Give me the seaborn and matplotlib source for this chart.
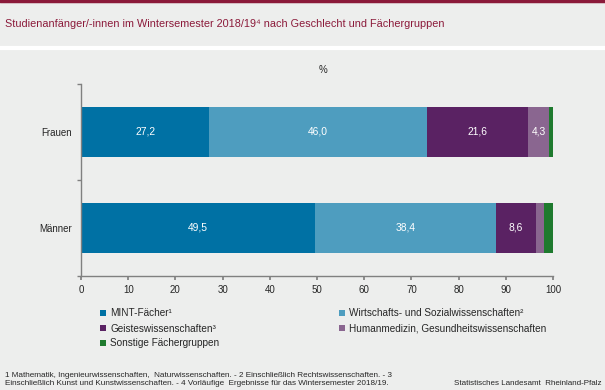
import numpy as np
import pandas as pd
import matplotlib
matplotlib.use("Agg")
import matplotlib.pyplot as plt
from matplotlib.patches import Patch
from matplotlib.lines import Line2D
import seaborn as sns

# data
groups = ["Frauen", "Männer"]
subjects = ["MINT-Fächer¹", "Wirtschafts- und Sozialwissenschaften²", "Geisteswissenschaften³",
            "Humanmedizin, Gesundheitswissenschaften", "Sonstige Fächergruppen"]
frauen = [27.2, 46.0, 21.6, 4.3, 0.9]
maenner = [49.5, 38.4, 8.6, 1.6, 1.9]
show_label = [[True, True, True, True, False], [True, True, True, False, False]]
colors = ["#0071A4", "#4E9DBF", "#5A2263", "#8A6690", "#1E7A2E"]
ticks = list(range(0, 101, 10))

bg = "#EDEEED"
title_col = "#8B1A3A"
grey = "#808080"

sns.set_theme(style="white")
plt.rcParams["font.family"] = ["Liberation Sans", "DejaVu Sans"]

df = pd.DataFrame({"Gruppe": np.repeat(groups, len(subjects)),
                   "Fach": subjects * len(groups),
                   "Anteil": frauen + maenner})
df["Kumuliert"] = df.groupby("Gruppe")["Anteil"].cumsum()

fig = plt.figure(figsize=(6.05, 3.9), dpi=100, facecolor=bg)
ax = fig.add_axes([81 / 605, 1 - 276 / 390, (553 - 81) / 605, (276 - 84) / 390])
ax.set_facecolor(bg)

# stacked bars: draw cumulative totals from the back to the front
for fach, col in reversed(list(zip(subjects, colors))):
    sub = df[df["Fach"] == fach]
    sns.barplot(data=sub, x="Kumuliert", y="Gruppe", order=groups, color=col,
                width=0.52, saturation=1, edgecolor="none", linewidth=0, ax=ax)

for gi, g in enumerate(groups):
    sub = df[df["Gruppe"] == g].reset_index(drop=True)
    for si, row in sub.iterrows():
        if show_label[gi][si]:
            ax.text(row["Kumuliert"] - row["Anteil"] / 2, gi, f"{row['Anteil']:.1f}".replace(".", ","),
                    ha="center", va="center", color="white", fontsize=7.4)

ax.set_xlim(0, 100)
ax.set_ylim(1.5, -0.5)
ax.set_xticks(ticks)
ax.set_xlabel("")
ax.set_ylabel("")
ax.set_yticks([0, 1])
ax.set_yticklabels(groups)
ax.set_yticks([-0.5, 0.5, 1.5], minor=True)
ax.tick_params(axis="x", length=3, color=grey, labelsize=7, pad=3.5, bottom=True)
ax.tick_params(axis="y", which="major", length=0, labelsize=7, pad=6.5)
ax.tick_params(axis="y", which="minor", length=3, color=grey, left=True)
for s in ["top", "right"]:
    ax.spines[s].set_visible(False)
for s in ["left", "bottom"]:
    ax.spines[s].set_color(grey)
    ax.spines[s].set_linewidth(1)

# header decorations
fig.add_artist(Line2D([0, 1], [1 - 1.2 / 390, 1 - 1.2 / 390], color=title_col, lw=2.5, transform=fig.transFigure))
fig.add_artist(Line2D([0, 1], [1 - 48 / 390, 1 - 48 / 390], color="white", lw=3, transform=fig.transFigure))
fig.text(5 / 605, 1 - 27 / 390, "Studienanfänger/-innen im Wintersemester 2018/19⁴ nach Geschlecht und Fächergruppen",
         color=title_col, fontsize=7.85, va="baseline", ha="left")
fig.text(323 / 605, 1 - 70 / 390, "%", fontsize=7, ha="center", va="center")

# legend (column-major fill to get the row order of the original)
handles = [Patch(facecolor=c, edgecolor="none") for c in colors]
order = [0, 2, 4, 1, 3]
fig.legend([handles[i] for i in order], [subjects[i] for i in order], ncol=2,
           loc="upper left", bbox_to_anchor=(100 / 605, 1 - 308.5 / 390), frameon=False,
           fontsize=7.2, handlelength=0.6, handleheight=0.6, handletextpad=0.45,
           labelspacing=0.5, columnspacing=11.9, borderaxespad=0, borderpad=0)

fig.text(5 / 605, 1 - 379.2 / 390,
         "1 Mathematik, Ingenieurwissenschaften,  Naturwissenschaften. - 2 Einschließlich Rechtswissenschaften. - 3\n"
         "Einschließlich Kunst und Kunstwissenschaften. - 4 Vorläufige  Ergebnisse für das Wintersemester 2018/19.",
         fontsize=5.9, ha="left", va="center", linespacing=1.2)
fig.text(601 / 605, 1 - 383.3 / 390, "Statistisches Landesamt  Rheinland-Pfalz",
         fontsize=5.8, ha="right", va="center")

fig.savefig("out.png", dpi=100, facecolor=bg)
